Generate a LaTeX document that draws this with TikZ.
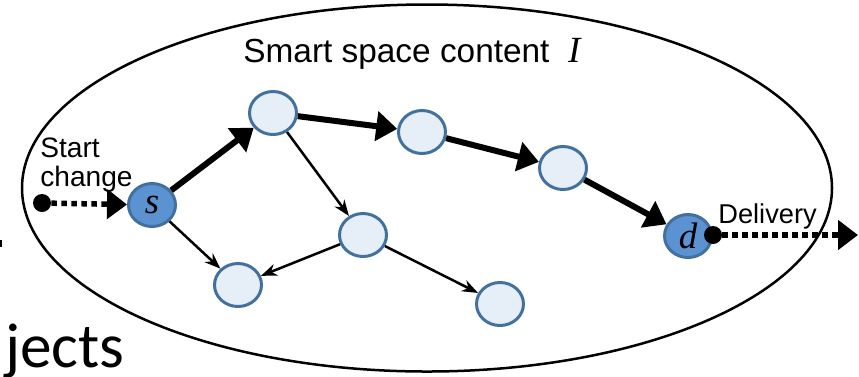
\documentclass[tikz,border=0pt]{standalone}
\usepackage{fontspec}
\setmainfont{Liberation Sans}
\newfontfamily\slidefont{Carlito}
\newfontfamily\varfont{Liberation Serif}
\usetikzlibrary{arrows.meta,shapes.geometric}
\definecolor{nodeblue}{RGB}{91,146,210}
\definecolor{nodeedge}{RGB}{65,113,156}
\definecolor{nodepale}{RGB}{230,238,248}
\tikzset{
    >={Stealth[length=0.32cm,width=0.24cm]}, % default arrow tip
    member/.style={ellipse, draw=nodeedge, line width=1.7pt, fill=nodepale,
        minimum width=0.94cm, minimum height=0.86cm, inner sep=0pt},
    endpoint/.style={member, fill=nodeblue,
        font=\varfont\itshape\fontsize{21}{21}\selectfont},
    heavy/.style={line width=0.12cm, -{Triangle[length=0.42cm,width=0.58cm]}},
    slim/.style={line width=0.05cm, ->},
    dotline/.style={line width=0.11cm, dash pattern=on 0.11cm off 0.09cm,
        -{Triangle[length=0.4cm,width=0.58cm]}},
    blob/.style={circle, fill=black, minimum size=0.36cm, inner sep=0pt}
}

\begin{document}
\begin{tikzpicture}
    \useasboundingbox (0,0) rectangle (17.18,-7.52);

    % the space
    \draw
        [line width=0.05cm]
        (8.54,-3.76) ellipse [x radius=8.1cm, y radius=3.67cm]
    ;
    \node[anchor=base west, inner sep=0pt, font=\fontsize{19}{19}\selectfont]
        (title) at (4.86,-1.24) {Smart space content~~{\varfont\itshape\fontsize{21}{21}\selectfont I}};

    \draw
        node[endpoint] (s) at (3.04,-4.10) {s}
        node[member] (n1) at (5.46,-2.26) {}
        node[member] (n2) at (8.44,-2.64) {}
        node[member] (n3) at (11.26,-3.36) {}
        node[member] (n4) at (7.26,-4.70) {}
        node[member] (n5) at (4.76,-5.70) {}
        node[member] (n6) at (10.00,-6.08) {}
        node[endpoint] (d) at (13.76,-4.72) {d}
    ;

    \draw
        [heavy]
        (s) -- (n1);
    \draw
        [heavy]
        (n1) -- (n2);
    \draw
        [heavy]
        (n2) -- (n3);
    \draw
        [heavy]
        (n3) -- (d);

    \draw
        [slim]
        (s) -- (n5);
    \draw
        [slim]
        (n1) -- (n4);
    \draw
        [slim]
        (n4) -- (n5);
    \draw
        [slim]
        (n4) -- (n6);

    % source and delivery
    \node[blob] (src) at (0.84,-4.06) {};
    \node[blob] (dlv) at (14.26,-4.70) {};
    \coordinate (out) at (17.16,-4.70);
    \draw
        [dotline]
        (src) -- (s);
    \draw
        [dotline]
        (dlv) -- (out);
    \node[anchor=north west, align=left, inner sep=0pt,
        font=\fontsize{16}{16.5}\selectfont]
        (start) at (0.80,-2.76) {Start\\change};
    \node[anchor=base west, inner sep=0pt, font=\fontsize{15.5}{15.5}\selectfont]
        (deliv) at (14.36,-4.46) {Delivery};

    % slide remnants
    \fill (0,-4.80) rectangle (0.04,-4.94);
    \node[anchor=base east, inner sep=0pt, font=\slidefont\fontsize{36}{36}\selectfont]
        (rest) at (2.50,-7.34) {jects};
\end{tikzpicture}
\end{document}
